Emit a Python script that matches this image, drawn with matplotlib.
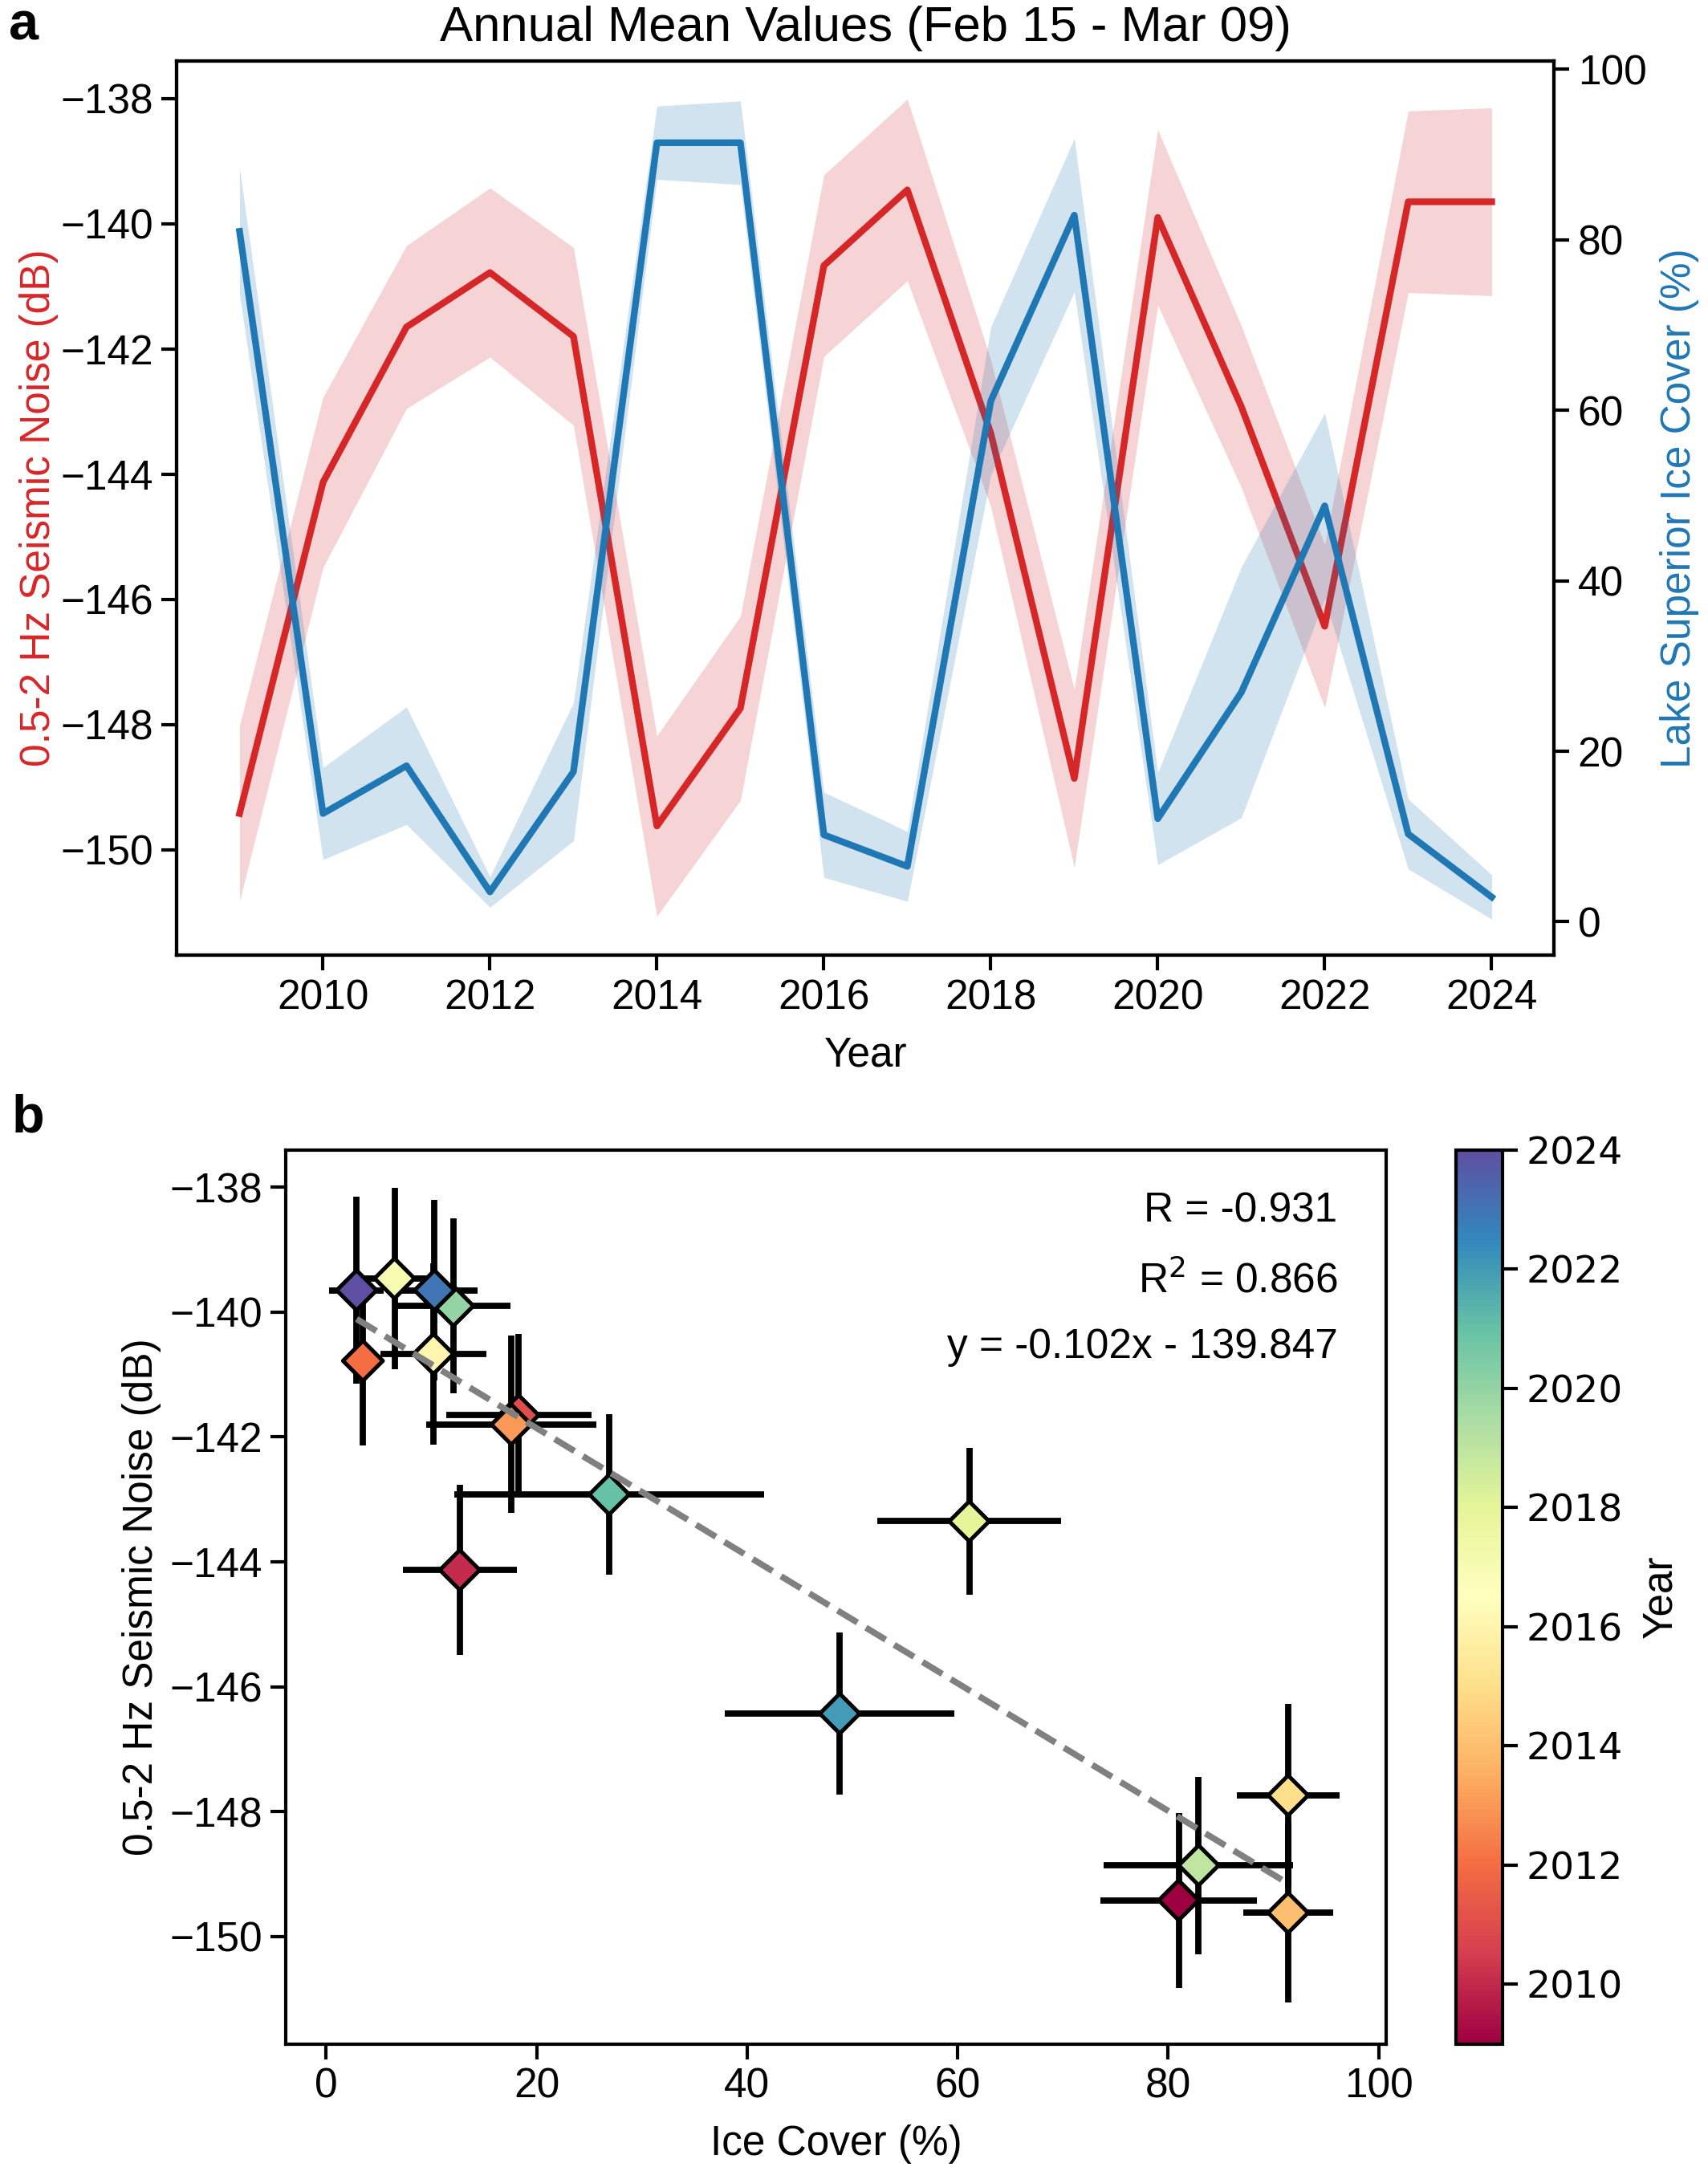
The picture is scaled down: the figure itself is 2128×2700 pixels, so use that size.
import numpy as np
import matplotlib
matplotlib.use("Agg")
import matplotlib.pyplot as plt
from matplotlib.colors import Normalize

plt.rcParams['font.family'] = ['Liberation Sans', 'DejaVu Sans']
plt.rcParams['font.size'] = 18.5

# annual means, Feb 15 - Mar 09
years = np.arange(2009, 2025)
noise = [-149.42, -144.13, -141.65, -140.78, -141.80, -149.62, -147.74, -140.67,
         -139.46, -143.35, -148.86, -139.90, -142.92, -146.43, -139.65, -139.65]
noise_std = [1.40, 1.36, 1.30, 1.35, 1.42, 1.44, 1.47, 1.45,
             1.45, 1.17, 1.42, 1.40, 1.29, 1.30, 1.45, 1.50]
ice = [81.0, 12.7, 18.3, 3.5, 17.6, 91.4, 91.4, 10.2,
       6.5, 61.1, 82.9, 12.1, 26.9, 48.8, 10.3, 2.9]
ice_std = [7.4, 5.4, 6.9, 1.8, 8.1, 4.3, 4.9, 5.0,
           4.1, 8.7, 9.0, 5.4, 14.7, 10.9, 4.1, 2.6]

noise = np.array(noise)
noise_std = np.array(noise_std)
ice = np.array(ice)
ice_std = np.array(ice_std)

red = '#d62728'
blue = '#1f77b4'

fig = plt.figure(figsize=(10.64, 13.5), dpi=200)

# ---- panel a
ax1 = fig.add_axes([0.1036, 0.5593, 0.8064, 0.4126])
ax1.fill_between(years, noise - noise_std, noise + noise_std, color=red, alpha=0.2, lw=0)
ax1.plot(years, noise, color=red, lw=3)
ax1.set_xlim(2008.25, 2024.75)
ax1.set_ylim(-151.68, -137.4)
ax1.set_yticks(np.arange(-150, -137, 2))
ax1.set_xticks(np.arange(2010, 2025, 2))
ax1.set_ylabel('0.5-2 Hz Seismic Noise (dB)', color=red, labelpad=1)
ax1.set_xlabel('Year', labelpad=8)
ax1.set_title('Annual Mean Values (Feb 15 - Mar 09)', pad=9)

ax2 = ax1.twinx()
ax2.fill_between(years, ice - ice_std, ice + ice_std, color=blue, alpha=0.2, lw=0)
ax2.plot(years, ice, color=blue, lw=3)
ax2.set_ylim(-3.9, 101.0)
ax2.set_yticks(np.arange(0, 101, 20))
ax2.set_ylabel('Lake Superior Ice Cover (%)', color=blue, labelpad=6)

for a in (ax1, ax2):
    for s in a.spines.values():
        s.set_linewidth(1.5)
    a.tick_params(width=1.5, length=7)

# ---- panel b
ax3 = fig.add_axes([0.1675, 0.0568, 0.644, 0.4126])
cmap = plt.get_cmap('Spectral')
norm = Normalize(vmin=2009, vmax=2024)

ax3.errorbar(ice, noise, xerr=ice_std, yerr=noise_std, fmt='none',
             ecolor='black', elinewidth=2.8, capsize=0, zorder=2)
ax3.scatter(ice, noise, c=years, cmap=cmap, norm=norm, marker='D', s=160,
            edgecolors='black', linewidths=1.8, zorder=3)

slope, icpt = np.polyfit(ice, noise, 1)
xf = np.array([ice.min(), ice.max()])
ax3.plot(xf, slope * xf + icpt, '--', color='gray', lw=2.8, zorder=4)

ax3.text(0.956, 0.931, 'R = -0.931', transform=ax3.transAxes, ha='right', va='center')
ax3.text(0.956, 0.853, r'R$^2$ = 0.866', transform=ax3.transAxes, ha='right', va='center')
ax3.text(0.956, 0.779, 'y = -0.102x - 139.847', transform=ax3.transAxes, ha='right', va='center')

ax3.set_xlim(-3.8, 100.7)
ax3.set_ylim(-151.72, -137.4)
ax3.set_yticks(np.arange(-150, -137, 2))
ax3.set_xticks(np.arange(0, 101, 20))
ax3.set_xlabel('Ice Cover (%)', labelpad=8)
ax3.set_ylabel('0.5-2 Hz Seismic Noise (dB)')
for s in ax3.spines.values():
    s.set_linewidth(1.5)
ax3.tick_params(width=1.5, length=7)

cax = fig.add_axes([0.8525, 0.0568, 0.0273, 0.4126])
sm = plt.cm.ScalarMappable(cmap=cmap, norm=norm)
cb = fig.colorbar(sm, cax=cax, ticks=np.arange(2010, 2025, 2))
cb.set_label('Year', labelpad=8)
cb.outline.set_linewidth(1.5)
cax.tick_params(width=1.5, length=7, labelsize=17)
for t in cax.get_yticklabels():
    t.set_family('DejaVu Sans')

fig.text(0.005, 0.988, 'a', fontsize=24, fontweight='bold', va='center')
fig.text(0.007, 0.484, 'b', fontsize=24, fontweight='bold', va='center')

fig.savefig('out.png', dpi=200)
